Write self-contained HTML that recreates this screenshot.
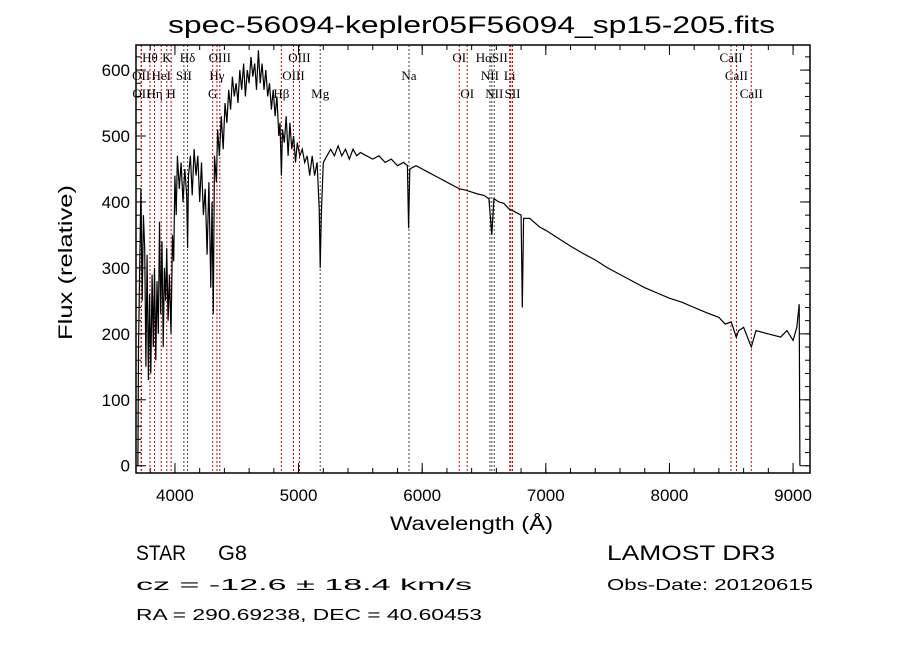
<!DOCTYPE html>
<html><head><meta charset="utf-8"><style>
body{margin:0;background:#fff;}
svg{display:block;font-family:"Liberation Sans",sans-serif;}
</style></head><body>
<svg id="c" width="900" height="649">
<text x="168" y="33" font-size="24" textLength="607" lengthAdjust="spacingAndGlyphs">spec-56094-kepler05F56094_sp15-205.fits</text>
<g id="lines"></g>
<g id="spec"></g>
<rect x="136" y="45" width="674" height="428" fill="none" stroke="#000" stroke-width="1.5"/>
<g id="axes"></g>
<text x="390" y="530" font-size="19" textLength="163" lengthAdjust="spacingAndGlyphs">Wavelength (Å)</text>
<text transform="translate(72,340) rotate(-90)" font-size="19" textLength="155" lengthAdjust="spacingAndGlyphs">Flux (relative)</text>
<text x="136" y="560" font-size="21" textLength="50" lengthAdjust="spacingAndGlyphs">STAR</text>
<text x="218" y="560" font-size="21" textLength="29" lengthAdjust="spacingAndGlyphs">G8</text>
<text x="136" y="590" font-size="16" textLength="336" lengthAdjust="spacingAndGlyphs">cz = -12.6 ± 18.4 km/s</text>
<text x="136" y="620" font-size="16" textLength="346" lengthAdjust="spacingAndGlyphs">RA = 290.69238, DEC =  40.60453</text>
<text x="607" y="560" font-size="21" textLength="168" lengthAdjust="spacingAndGlyphs">LAMOST DR3</text>
<text x="607" y="590" font-size="16" textLength="206" lengthAdjust="spacingAndGlyphs">Obs-Date: 20120615</text>
</svg>
<script>
const wave=[3700,3705,3715,3725,3735,3745,3755,3765,3775,3785,3795,3805,3815,3825,3835,3845,3855,3865,3875,3885,3895,3905,3915,3925,3933,3945,3955,3968,3980,3990,4000,4010,4020,4035,4050,4065,4080,4095,4102,4110,4125,4140,4155,4170,4185,4200,4215,4230,4245,4260,4275,4290,4300,4310,4320,4335,4345,4360,4375,4390,4405,4420,4435,4450,4465,4480,4495,4510,4525,4540,4555,4570,4585,4600,4615,4630,4645,4660,4675,4690,4705,4720,4735,4750,4765,4780,4795,4810,4825,4840,4850,4861,4870,4885,4900,4915,4930,4945,4960,4975,4990,5010,5030,5050,5070,5090,5110,5130,5150,5167,5175,5184,5200,5230,5260,5290,5320,5350,5380,5410,5440,5470,5500,5550,5600,5650,5700,5750,5800,5850,5880,5890,5900,5950,6000,6050,6100,6150,6200,6250,6300,6350,6400,6450,6500,6540,6563,6580,6620,6660,6700,6750,6800,6810,6820,6870,6900,6950,7000,7100,7200,7300,7400,7500,7600,7700,7800,7900,8000,8100,8200,8300,8400,8450,8500,8540,8560,8600,8662,8700,8800,8900,8950,9000,9030,9050,9055];
const flux=[0,180,300,420,250,380,330,150,320,130,260,140,290,180,300,160,280,200,370,230,340,180,300,250,330,220,290,200,350,310,440,380,470,420,460,400,450,410,330,440,470,410,480,440,470,400,460,380,420,320,430,270,400,230,470,430,510,470,530,480,550,520,570,540,590,560,580,550,600,570,610,560,600,580,620,590,610,570,630,580,610,570,600,560,580,540,570,530,560,500,520,440,510,490,530,470,520,480,500,460,490,470,480,460,470,440,470,440,460,390,300,380,460,470,480,470,485,470,480,465,480,470,475,470,465,470,460,465,455,460,455,360,450,455,450,445,440,435,430,425,420,418,415,412,410,405,350,405,400,398,390,385,380,240,375,375,370,362,357,345,333,322,312,300,290,280,270,262,254,248,240,232,225,215,218,195,205,210,180,205,200,195,205,190,210,245,0];
const lineWave=[3727,3729,3798,3835,3889,3934,3969,4072,4102,4305,4340,4363,4861,4959,5007,5175,5893,6300,6364,6548,6563,6583,6708,6717,6731,8498,8542,8662];
const lineColor=["r","r","r","r","r","r","r","k","k","r","r","r","r","r","r","k","k","r","r","k","k","k","r","r","r","r","r","r"];
const labelText=["Hθ","K","Hδ","OIII","OIII","OI","HαSII","CaII","OII","HeI","SII","Hγ","OIII","Na","NII","Li","CaII","OII","Hη","H","G","Hβ","Mg","OI","NII","SII","CaII"];
const labelWave=[3798,3934,4102,4363,5007,6300,6563,8498,3727,3889,4072,4340,4959,5893,6548,6708,8542,3729,3835,3969,4305,4861,5175,6364,6583,6731,8662];
const labelRow=[0,0,0,0,0,0,0,0,1,1,1,1,1,1,1,1,1,2,2,2,2,2,2,2,2,2,2];
const xTicks=[4000,5000,6000,7000,8000,9000];
const yTicks=[0,100,200,300,400,500,600];
const X0=136,X1=810,Y0=473,Y1=45,WMIN=3685,WMAX=9137,FMIN=-11,FMAX=638;
const sx=w=>X0+(w-WMIN)/(WMAX-WMIN)*(X1-X0);
const sy=f=>Y0-(f-FMIN)/(FMAX-FMIN)*(Y0-Y1);
const NS="http://www.w3.org/2000/svg";
function mk(t,a,p){const e=document.createElementNS(NS,t);for(const k in a)e.setAttribute(k,a[k]);p.appendChild(e);return e;}
const lg=document.getElementById('lines');
lineWave.forEach((w,i)=>{const l=mk('line',{x1:sx(w),x2:sx(w),y1:Y1,y2:Y0,stroke:lineColor[i]=="r"?"#c00":"#444","stroke-width":1,"stroke-dasharray":"2,2"},lg);

});
labelText.forEach((t,i)=>{const e=mk('text',{x:sx(labelWave[i]),y:62+labelRow[i]*18,"text-anchor":"middle","font-size":13,"font-family":"Liberation Serif, serif"},lg);e.textContent=t;

});
const sg=document.getElementById('spec');
const p=mk('polyline',{points:wave.map((w,i)=>sx(w).toFixed(1)+","+sy(Math.min(flux[i],FMAX)).toFixed(1)).join(" "),fill:"none",stroke:"#000","stroke-width":1.2},sg);


const ag=document.getElementById('axes');
for(let v=3800;v<=9100;v+=200){const x=sx(v);mk('line',{x1:x,x2:x,y1:Y0,y2:Y0-5,stroke:"#000"},ag);mk('line',{x1:x,x2:x,y1:Y1,y2:Y1+5,stroke:"#000"},ag);}
for(let v=0;v<=620;v+=20){const y=sy(v);mk('line',{x1:X0,x2:X0+5,y1:y,y2:y,stroke:"#000"},ag);mk('line',{x1:X1,x2:X1-5,y1:y,y2:y,stroke:"#000"},ag);}
xTicks.forEach(v=>{const x=sx(v);mk('line',{x1:x,x2:x,y1:Y0,y2:Y0-10,stroke:"#000"},ag);mk('line',{x1:x,x2:x,y1:Y1,y2:Y1+10,stroke:"#000"},ag);
const t=mk('text',{x:x,y:Y0+28,"text-anchor":"middle","font-size":17},ag);t.textContent=v;

});
yTicks.forEach(v=>{const y=sy(v);mk('line',{x1:X0,x2:X0+10,y1:y,y2:y,stroke:"#000"},ag);mk('line',{x1:X1,x2:X1-10,y1:y,y2:y,stroke:"#000"},ag);
const t=mk('text',{x:X0-6,y:y+6,"text-anchor":"end","font-size":17},ag);t.textContent=v;

});
</script>
</body></html>
